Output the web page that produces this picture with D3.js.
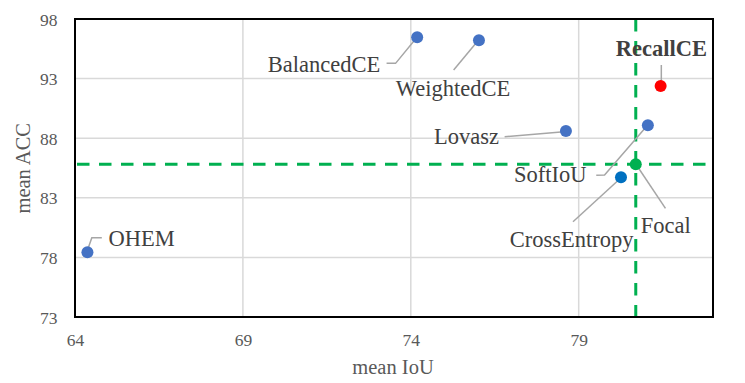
<!DOCTYPE html>
<html>
<head>
  <meta charset="utf-8">
  <script src="https://d3js.org/d3.v7.min.js"></script>
  <style>
    body { margin: 0; background: #fff; }
    text { font-family: "Liberation Serif", "Times New Roman", serif; }
  </style>
</head>
<body>
  <div id="chart"></div>
  <script type="text/javascript">
  // data
  var methods = ["OHEM", "BalancedCE", "WeightedCE", "Lovasz", "SoftIoU", "CrossEntropy", "Focal", "RecallCE"];
  var meanIoU = [64.37, 74.19, 76.03, 78.62, 81.06, 80.26, 80.70, 81.44];
  var meanAcc = [78.43, 96.46, 96.21, 88.60, 89.08, 84.72, 85.81, 92.38];
  var xTicks = [64, 69, 74, 79];
  var yTicks = [73, 78, 83, 88, 93, 98];
  var refMethod = "Focal";

  // look of each point and where its label sits (px offsets from the point)
  var pointColor = { RecallCE: "#FF0000", Focal: "#00B050", CrossEntropy: "#0070C0" };
  var labelPos = {
    OHEM:         { dx: 21,    dy: -6.3, anchor: "start",  leader: [[0, -2], [4.4, -14.6], [14.4, -14.6]] },
    BalancedCE:   { dx: -37,   dy: 34.4, anchor: "end",    leader: [[-1.6, 1.7], [-21.6, 26], [-30.6, 26]] },
    WeightedCE:   { dx: -26,   dy: 55.7, anchor: "middle", leader: [[-1, 0.4], [-25.3, 29.7]] },
    Lovasz:       { dx: -67,   dy: 13.3, anchor: "end",    leader: [[-61.3, 5.7], [-2, 0.7]] },
    SoftIoU:      { dx: -61.3, dy: 57,   anchor: "end",    leader: [[-51.6, 50], [-43.3, 49.7], [-1.6, 1.4]] },
    CrossEntropy: { dx: -49.3, dy: 69.4, anchor: "middle", leader: [[-48, 44.4], [-1.3, 1.7]] },
    Focal:        { dx: 5,     dy: 68.4, anchor: "start",  leader: [[29.7, 44], [0.7, 0.7]] },
    RecallCE:     { dx: 0.7,   dy: -30,  anchor: "middle", leader: [[0.7, -21], [0.7, 0]], bold: true }
  };

  var serif = "'Liberation Serif', 'Times New Roman', serif";
  var width = 745, height = 383;
  var margin = { top: 19, right: 32, bottom: 66, left: 75 };
  var w = width - margin.left - margin.right,
      h = height - margin.top - margin.bottom;

  var svg = d3.select("#chart").append("svg")
      .attr("width", width)
      .attr("height", height)
      .attr("font-family", serif);

  var x = d3.scaleLinear().domain([64, 83]).range([0, w]);
  var y = d3.scaleLinear().domain([73, 98]).range([h, 0]);

  var g = svg.append("g")
      .attr("transform", "translate(" + margin.left + "," + margin.top + ")");

  // gridlines
  g.selectAll(".vgrid").data(xTicks).enter().append("line")
      .attr("x1", d => x(d)).attr("x2", d => x(d))
      .attr("y1", 0).attr("y2", h)
      .attr("stroke", "#D9D9D9").attr("stroke-width", 1.5);
  g.selectAll(".hgrid").data(yTicks).enter().append("line")
      .attr("x1", 0).attr("x2", w)
      .attr("y1", d => y(d)).attr("y2", d => y(d))
      .attr("stroke", "#D9D9D9").attr("stroke-width", 1.5);

  // axes (labels only)
  var xAxis = g.append("g")
      .attr("transform", "translate(0," + h + ")")
      .call(d3.axisBottom(x).tickValues(xTicks).tickSize(0));
  xAxis.attr("font-family", serif).attr("font-size", 17.5);
  xAxis.select(".domain").remove();
  xAxis.selectAll("text")
      .attr("y", 28.7).attr("dy", null)
      .attr("fill", "#595959");

  var yAxis = g.append("g")
      .call(d3.axisLeft(y).tickValues(yTicks).tickSize(0).tickPadding(17.5));
  yAxis.attr("font-family", serif).attr("font-size", 17.5);
  yAxis.select(".domain").remove();
  yAxis.selectAll("text")
      .attr("dy", "6")
      .attr("fill", "#595959");

  // axis titles
  svg.append("text")
      .attr("x", 393).attr("y", 374)
      .attr("text-anchor", "middle")
      .attr("fill", "#595959")
      .style("font-size", "20.5px")
      .text("mean IoU");
  svg.append("text")
      .attr("transform", "translate(30,168.3) rotate(-90)")
      .attr("text-anchor", "middle")
      .attr("fill", "#595959")
      .style("font-size", "20.5px")
      .text("mean ACC");

  var rows = methods.map(function(m, i) {
    return { name: m, iou: meanIoU[i], acc: meanAcc[i] };
  });
  var ref = rows.find(d => d.name === refMethod);

  // reference lines through the Focal point
  g.append("line")
      .attr("x1", 0).attr("x2", w + 1)
      .attr("y1", y(ref.acc)).attr("y2", y(ref.acc))
      .attr("stroke", "#00B050").attr("stroke-width", 3)
      .attr("stroke-dasharray", "12.5,9.5")
      .attr("stroke-dashoffset", -2);
  g.append("line")
      .attr("x1", x(ref.iou)).attr("x2", x(ref.iou))
      .attr("y1", 0).attr("y2", h)
      .attr("stroke", "#00B050").attr("stroke-width", 3)
      .attr("stroke-dasharray", "12.5,9.5");

  // plot border
  g.append("rect")
      .attr("width", w).attr("height", h)
      .attr("fill", "none")
      .attr("stroke", "#000").attr("stroke-width", 2);

  var line = d3.line();

  var pts = g.selectAll(".pt").data(rows).enter().append("g")
      .attr("class", "pt")
      .attr("transform", d => "translate(" + x(d.iou) + "," + y(d.acc) + ")");

  pts.append("path")
      .attr("d", d => line(labelPos[d.name].leader))
      .attr("fill", "none")
      .attr("stroke", "#A6A6A6")
      .attr("stroke-width", 1.5);

  pts.append("circle")
      .attr("r", 6)
      .attr("fill", d => pointColor[d.name] || "#4472C4");

  pts.append("text")
      .attr("x", d => labelPos[d.name].dx)
      .attr("y", d => labelPos[d.name].dy)
      .attr("text-anchor", d => labelPos[d.name].anchor)
      .attr("fill", "#404040")
      .style("font-size", "22.5px")
      .style("font-weight", d => labelPos[d.name].bold ? "bold" : "normal")
      .text(d => d.name);
  </script>
</body>
</html>
